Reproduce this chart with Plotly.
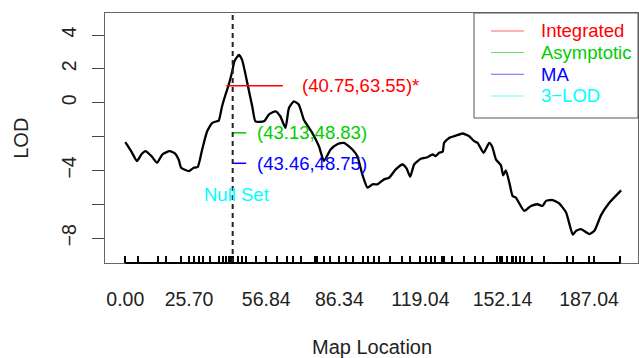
import plotly.graph_objects as go

# ---- data ----
lod_pos = [0, 2.5, 4.7, 6.5, 8.1, 10.5, 12.8, 15, 17.9, 20, 21.5, 22.5, 25.6, 27.6, 29.2, 31, 33, 35,
           36.8, 37.7, 39, 40.4, 41.7, 43.1, 44, 45.8, 47.1, 49.2, 51.2, 52.5, 55.9, 57.9, 60.6, 62.5,
           64.6, 66, 68, 70, 72, 75.4, 78.1, 80.1, 82.8, 85.5, 88.2, 91.6, 93.6, 95.6, 97.7, 99.7,
           101.7, 104.4, 106.4, 109.1, 111.8, 113.5, 114.9, 116.5, 119.2, 121.9, 123.9, 125.2, 126.6,
           128, 128.6, 130.6, 133.3, 136, 138.7, 140.7, 142.1, 144.5, 146.8, 148, 149.5, 151.5, 152.4,
           153.5, 154.9, 156.2, 157.5, 160.9, 163.6, 166.3, 168.3, 169.7, 172.4, 175, 177.8, 180.5,
           181.8, 183.8, 187.2, 189.2, 191.9, 195, 200]
lod_val = [-2.33, -2.9, -3.45, -3.05, -2.86, -3.15, -3.55, -3.05, -2.86, -3.0, -3.35, -3.84, -4.04,
           -3.84, -3.8, -2.76, -1.69, -1.2, -1.1, -1.06, -0.22, 0.47, 1.06, 1.84, 2.45, 2.82, 2.53,
           1.16, -0.22, -1.1, -1.1, -0.7, -0.51, -0.8, -1.49, -0.31, 0.08, -0.12, -1.0, -1.78, -2.57,
           -3.45, -2.76, -2.45, -2.37, -2.76, -3.16, -4.24, -5.02, -4.82, -4.82, -4.53, -4.43, -3.94,
           -3.65, -3.9, -4.37, -3.65, -3.31, -3.22, -3.06, -3.15, -2.96, -2.9, -2.37, -2.08, -1.95,
           -1.82, -1.98, -2.27, -2.37, -2.96, -2.37, -2.6, -3.35, -3.7, -4.29, -4.0, -4.72, -5.51,
           -5.6, -6.39, -6.1, -6.0, -6.1, -5.8, -5.75, -5.95, -6.49, -7.8, -7.57, -7.47, -7.76,
           -7.57, -6.64, -5.95, -5.18]

markers = [0.00, 5.1, 13.0, 16.4, 22.6, 25.70, 27.6, 29.9, 31.4, 34.3, 37.7, 39.5, 40.8, 41.9, 42.8,
           43.6, 45.4, 46.9, 48.6, 52.8, 56.84, 61.3, 65.2, 67.5, 71.0, 76.4, 77.4, 80.1, 82.4, 86.34,
           88.9, 92.0, 96.0, 97.9, 100.3, 102.3, 106.8, 111.4, 114.9, 119.04, 121.2, 123.2, 124.8,
           127.9, 128.6, 131.6, 136.7, 141.0, 144.1, 149.8, 151.1, 152.14, 153.8, 156.0, 156.5, 157.6,
           159.2, 160.9, 164.0, 169.0, 178.2, 180.7, 187.04, 188.9, 199.7]
x_labels = [0.00, 25.70, 56.84, 86.34, 119.04, 152.14, 187.04]

y_ticks = [4, 2, 0, -2, -4, -6, -8]
y_ticktext = ["4", "2", "0", "", "\u22124", "", "\u22128"]

peak_x = 43.3

methods = ["Integrated", "Asymptotic", "MA", "3\u2212LOD"]
method_colors = ["#FF0000", "#00CD00", "#0000FF", "#00FFFF"]
int_left = [40.75, 43.13, 43.46]
int_right = [63.55, 48.83, 48.75]
int_level = [1.0, -1.78, -3.58]
int_text = ["(40.75,63.55)*", "(43.13,48.83)", "(43.46,48.75)"]
text_x = [70.6, 52.2, 52.2]
null_text = "Null Set"
null_x, null_y = 44.8, -5.45

FONT = "Liberation Sans, Arial, Helvetica, sans-serif"

fig = go.Figure()
fig.add_trace(go.Scatter(x=lod_pos, y=lod_val, mode="lines",
                         line=dict(color="black", width=2.3, shape="spline", smoothing=0.5),
                         showlegend=False))

for i in range(3):
    fig.add_trace(go.Scatter(x=[int_left[i], int_right[i]], y=[int_level[i], int_level[i]],
                             mode="lines", line=dict(color=method_colors[i], width=1.5),
                             showlegend=False))
    fig.add_annotation(x=text_x[i], y=int_level[i], text=int_text[i], showarrow=False,
                       xanchor="left", yanchor="middle",
                       font=dict(color=method_colors[i], size=18.5, family=FONT))

fig.add_annotation(x=null_x, y=null_y, text=null_text, showarrow=False,
                   xanchor="center", yanchor="middle",
                   font=dict(color=method_colors[3], size=18.5, family=FONT))

# dashed vertical line at peak
fig.add_shape(type="line", xref="x", yref="paper", x0=peak_x, x1=peak_x, y0=0, y1=1,
              line=dict(color="#222222", width=2, dash="5px,4px"))

# axis line spanning the markers
fig.add_shape(type="line", xref="x", yref="paper", x0=markers[0], x1=markers[-1], y0=0, y1=0,
              line=dict(color="black", width=2))

# legend (manual, R style)
L, R_, T, B = 0.6923, 1.0, 1.0, 0.58
fig.add_shape(type="rect", xref="paper", yref="paper", x0=L, x1=R_, y0=B, y1=T,
              line=dict(color="#555555", width=1), fillcolor="white", layer="above")
rows = [0.928, 0.842, 0.755, 0.668]
for i, name in enumerate(methods):
    fig.add_shape(type="line", xref="paper", yref="paper", x0=0.7242, x1=0.7861,
                  y0=rows[i], y1=rows[i], line=dict(color=method_colors[i], width=1),
                  opacity=0.6, layer="above")
    fig.add_annotation(xref="paper", yref="paper", x=0.815, y=rows[i], text=name,
                       showarrow=False, xanchor="left", yanchor="middle",
                       font=dict(color=method_colors[i], size=18.5, family=FONT))

# axis titles
fig.add_annotation(xref="paper", yref="paper", x=0.5, y=-0.336, text="Map Location",
                   showarrow=False, xanchor="center", yanchor="middle",
                   font=dict(color="#222222", size=20, family=FONT))
fig.add_annotation(xref="paper", yref="paper", x=-0.158, y=0.5, text="LOD", textangle=-90,
                   showarrow=False, xanchor="center", yanchor="middle",
                   font=dict(color="#222222", size=20, family=FONT))

x_ticktext = [(f"{m:.2f}" if m in x_labels else "") for m in markers]

fig.update_xaxes(range=[-8.2, 206.8], tickmode="array", tickvals=markers, ticktext=x_ticktext,
                 ticks="inside", ticklen=7, tickwidth=1.5, tickcolor="black",
                 showline=True, mirror=True, linecolor="#666666", linewidth=1,
                 showgrid=False, zeroline=False, ticklabelstandoff=19,
                 tickfont=dict(size=19.5, color="#222222", family=FONT))
fig.update_yaxes(range=[-9.47, 5.30], tickmode="array", tickvals=y_ticks, ticktext=y_ticktext,
                 ticks="outside", ticklen=12, tickwidth=1, tickcolor="#444444",
                 showline=True, mirror=True, linecolor="#666666", linewidth=1,
                 showgrid=False, zeroline=False, tickangle=-90, ticklabelstandoff=8,
                 tickfont=dict(size=19.5, color="#222222", family=FONT))

fig.update_layout(width=639, height=358, margin=dict(l=105, r=1, t=13, b=95),
                  plot_bgcolor="white", paper_bgcolor="white", showlegend=False)

fig.write_html("out.html", config={"displayModeBar": False},
               post_script="document.body.style.margin='0';document.body.style.padding='0';")
